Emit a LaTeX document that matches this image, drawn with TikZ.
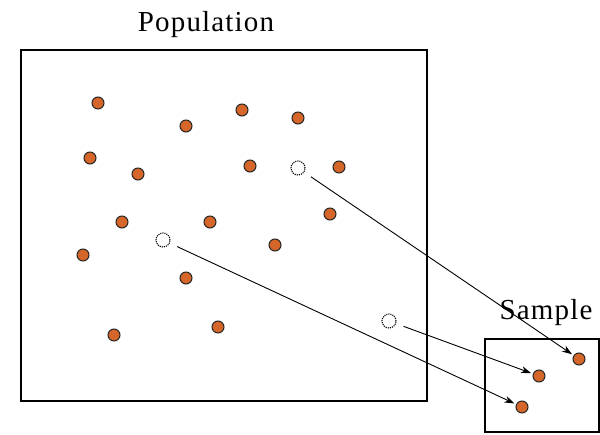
\documentclass[tikz,border=0pt]{standalone}
\usepackage{fontspec}
\setmainfont{Liberation Serif}
\usetikzlibrary{arrows.meta}
\definecolor{dotorange}{RGB}{212,102,42}
\begin{document}
\begin{tikzpicture}[x=1pt,y=-1pt,>={Stealth[length=10pt,width=7pt]},
        unit/.style={circle, draw=black!85, fill=dotorange, line width=1pt, minimum size=12pt, inner sep=0pt},
        picked/.style={circle, draw, densely dotted, line width=1.1pt, minimum size=14pt, inner sep=0pt},
        frame/.style={draw, line width=1.8pt, anchor=north west, inner sep=0pt},
        title/.style={font=\fontsize{29}{32}\selectfont\addfontfeatures{LetterSpace=4}, anchor=base},
        link/.style={->, line width=0.9pt, shorten <=8pt, shorten >=2pt}]
    \useasboundingbox (0,0) rectangle (600,434);
    \node[frame, minimum width=406pt, minimum height=351pt] (population) at (20,49) {};
    \node[frame, minimum width=114pt, minimum height=93pt] (sample) at (484,338) {};
    \node[title] (poptext) at (206,31) {Population};
    \node[title] (sampletext) at (546,319) {Sample};
    % units of the population
    \foreach \px/\py [count=\i] in {98/103, 186/126, 242/110, 298/118, 90/158, 138/174,
            250/166, 339/167, 330/214, 122/222, 210/222, 83/255, 275/245, 186/278,
            114/335, 218/327}
        \node[unit] (p\i) at (\px,\py) {};
    % units drawn into the sample
    \node[picked] (c1) at (298,168) {};
    \node[picked] (c2) at (163,240) {};
    \node[picked] (c3) at (389,321) {};
    \node[unit] (s1) at (579,359) {};
    \node[unit] (s2) at (539,376) {};
    \node[unit] (s3) at (522,407) {};
    \draw[link] (c1) -- (s1);
    \draw[link] (c2) -- (s3);
    \draw[link] (c3) -- (s2);
\end{tikzpicture}
\end{document}
